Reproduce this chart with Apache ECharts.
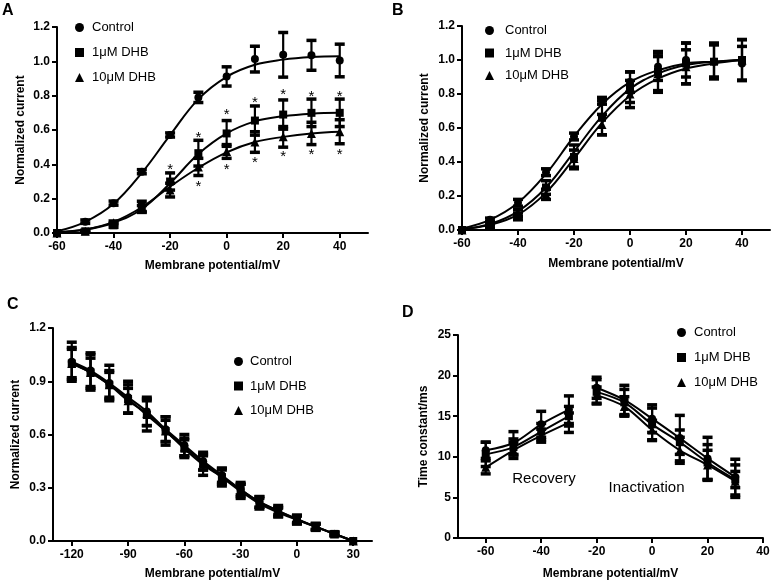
<!DOCTYPE html>
<html><head><meta charset="utf-8">
<script src="https://cdn.jsdelivr.net/npm/echarts@6/dist/echarts.min.js"></script>
<style>html,body{margin:0;padding:0;background:#fff}#c{width:772px;height:585px}</style>
</head><body><div id="c"></div>
<script>
const names = ['Control', '1μM DHB', '10μM DHB'];

// ---------- Panel A ----------
const xA = [-60, -50, -40, -30, -20, -10, 0, 10, 20, 30, 40];
const ctrlA = [0, 0.066, 0.174, 0.357, 0.571, 0.79, 0.912, 1.013, 1.038, 1.035, 1.005];
const ctrlAErr = [0, 0.01, 0.012, 0.012, 0.012, 0.03, 0.056, 0.075, 0.13, 0.087, 0.095];
const dhb1A = [0, 0.01, 0.045, 0.155, 0.30, 0.465, 0.58, 0.655, 0.69, 0.70, 0.70];
const dhb1AErr = [0, 0.005, 0.012, 0.03, 0.05, 0.075, 0.075, 0.085, 0.085, 0.08, 0.08];
const dhb10A = [0, 0.01, 0.06, 0.14, 0.25, 0.385, 0.475, 0.53, 0.56, 0.58, 0.59];
const dhb10AErr = [0, 0.005, 0.01, 0.02, 0.04, 0.05, 0.04, 0.06, 0.06, 0.065, 0.07];
const fitCtrlA = [0.01, 0.065, 0.17, 0.35, 0.57, 0.78, 0.91, 0.98, 1.01, 1.025, 1.03];
const fit1A = [0.005, 0.02, 0.06, 0.14, 0.29, 0.46, 0.58, 0.65, 0.68, 0.695, 0.70];
const fit10A = [0.005, 0.02, 0.065, 0.15, 0.27, 0.38, 0.47, 0.53, 0.56, 0.58, 0.59];
const starAx = [-20, -10, 0, 10, 20, 30, 40, -10, 0, 10, 20, 30, 40];
const starAy = [0.387, 0.571, 0.706, 0.778, 0.822, 0.809, 0.809, 0.286, 0.387, 0.426, 0.46, 0.474, 0.474];

// ---------- Panel B ----------
const xB = [-60, -50, -40, -30, -20, -10, 0, 10, 20, 30, 40];
const ctrlB = [0, 0.06, 0.16, 0.34, 0.55, 0.76, 0.87, 0.96, 1.0, 0.99, 0.98];
const ctrlBErr = [0, 0.01, 0.02, 0.02, 0.02, 0.02, 0.06, 0.08, 0.1, 0.1, 0.1];
const dhb1B = [0, 0.02, 0.08, 0.25, 0.43, 0.66, 0.84, 0.93, 0.98, 0.99, 1.0];
const dhb1BErr = [0, 0.01, 0.02, 0.04, 0.07, 0.1, 0.09, 0.12, 0.12, 0.1, 0.12];
const dhb10B = [0, 0.02, 0.10, 0.21, 0.42, 0.62, 0.80, 0.92, 0.96, 1.0, 1.0];
const dhb10BErr = [0, 0.01, 0.02, 0.03, 0.05, 0.06, 0.08, 0.1, 0.1, 0.1, 0.12];
const fitCtrlB = [0.01, 0.06, 0.16, 0.33, 0.55, 0.74, 0.87, 0.94, 0.98, 0.99, 1.0];
const fit1B = [0.005, 0.035, 0.11, 0.25, 0.46, 0.67, 0.83, 0.92, 0.97, 0.99, 1.0];
const fit10B = [0.005, 0.03, 0.09, 0.22, 0.42, 0.63, 0.79, 0.89, 0.95, 0.98, 1.0];

// ---------- Panel C ----------
const xC = [-120, -110, -100, -90, -80, -70, -60, -50, -40, -30, -20, -10, 0, 10, 20, 30];
const ctrlC = [1.01, 0.96, 0.89, 0.81, 0.73, 0.63, 0.54, 0.45, 0.37, 0.29, 0.22, 0.17, 0.125, 0.08, 0.04, 0.0];
const ctrlCErr = [0.11, 0.1, 0.1, 0.09, 0.08, 0.07, 0.06, 0.05, 0.04, 0.03, 0.03, 0.02, 0.02, 0.015, 0.01, 0];
const dhb1C = [1.0, 0.95, 0.88, 0.80, 0.71, 0.62, 0.52, 0.43, 0.36, 0.29, 0.22, 0.17, 0.12, 0.08, 0.04, 0.0];
const dhb1CErr = [0.09, 0.1, 0.08, 0.08, 0.09, 0.08, 0.05, 0.06, 0.05, 0.04, 0.03, 0.03, 0.025, 0.02, 0.01, 0];
const dhb10C = [1.0, 0.95, 0.88, 0.79, 0.72, 0.62, 0.53, 0.44, 0.36, 0.28, 0.21, 0.16, 0.12, 0.08, 0.04, 0.0];
const dhb10CErr = [0.08, 0.08, 0.07, 0.07, 0.07, 0.06, 0.05, 0.04, 0.04, 0.04, 0.03, 0.025, 0.02, 0.015, 0.01, 0];

// ---------- Panel D ----------
const xDrec = [-60, -50, -40, -30];
const ctrlDrec = [10.8, 11.7, 14.0, 15.8];
const ctrlDrecErr = [1.0, 1.4, 1.6, 1.7];
const dhb1Drec = [10.3, 11.2, 13.1, 15.0];
const dhb1DrecErr = [1.5, 1.0, 1.0, 1.2];
const dhb10Drec = [8.7, 10.8, 12.6, 14.2];
const dhb10DrecErr = [0.8, 1.0, 0.8, 1.2];
const xDin = [-20, -10, 0, 10, 20, 30];
const ctrlDin = [18.5, 17.0, 14.7, 12.3, 9.8, 7.5];
const ctrlDinErr = [1.3, 1.8, 1.7, 2.8, 2.6, 2.2];
const dhb1Din = [18.0, 16.7, 14.0, 11.8, 9.3, 7.2];
const dhb1DinErr = [1.5, 1.6, 2.0, 1.5, 2.2, 1.0];
const dhb10Din = [17.6, 16.2, 13.3, 10.8, 9.0, 7.0];
const dhb10DinErr = [1.0, 1.2, 1.2, 1.6, 1.8, 2.0];
const noteDtext = ['Recovery', 'Inactivation'];
const noteDx = [-39, -2];
const noteDy = [7.3, 6.2];

// tick labels
const ticksA = [-60, -40, -20, 0, 20, 40];
const ticksC = [-120, -90, -60, -30, 0, 30];
const ticksD = [-60, -40, -20, 0, 20, 40];

const FONT = 'Liberation Sans, Arial, sans-serif';
const symbols = ['circle', 'rect', 'triangle'];
const symSizes = [8, 8, 9];

function errRender(params, api) {
  const x = api.value(0), y = api.value(1), e = api.value(2);
  if (!e) return null;
  const t = api.coord([x, y + e]), b = api.coord([x, y - e]);
  const hw = 5;
  const st = {stroke: '#000', lineWidth: 2.2};
  const cs = {stroke: '#000', lineWidth: 3.5};
  return {type: 'group', children: [
    {type: 'line', shape: {x1: t[0], y1: t[1], x2: b[0], y2: b[1]}, style: st},
    {type: 'line', shape: {x1: t[0] - hw, y1: t[1], x2: t[0] + hw, y2: t[1]}, style: cs},
    {type: 'line', shape: {x1: b[0] - hw, y1: b[1], x2: b[0] + hw, y2: b[1]}, style: cs}
  ]};
}
function textRender(fontSize, weight, dy) {
  return function (params, api) {
    const p = api.coord([api.value(0), api.value(1)]);
    return {type: 'text', x: p[0], y: p[1] + dy, style: {
      text: String(api.value(2)), fontSize: fontSize, fontWeight: weight, fontFamily: FONT,
      fill: '#000', align: 'center', verticalAlign: 'middle'}};
  };
}

const series = [];
function addSet(ax, k, xs, ys, errs, fitXs, fitYs, smooth) {
  series.push({type: 'scatter', name: names[k], xAxisIndex: ax, yAxisIndex: ax, z: 5,
    symbol: symbols[k], symbolSize: symSizes[k], itemStyle: {color: '#000', opacity: 1},
    data: xs.map((x, i) => [x, ys[i]])});
  series.push({type: 'custom', name: names[k], xAxisIndex: ax, yAxisIndex: ax, z: 3,
    renderItem: errRender, encode: {x: 0, y: 1}, itemStyle: {color: '#000'},
    data: xs.map((x, i) => [x, ys[i], errs[i]])});
  series.push({type: 'line', name: names[k], xAxisIndex: ax, yAxisIndex: ax, z: 4,
    showSymbol: false, smooth: smooth,
    lineStyle: {color: '#000', width: 2}, itemStyle: {color: '#000'},
    data: fitXs.map((x, i) => [x, fitYs[i]])});
}
// A
addSet(0, 0, xA, ctrlA, ctrlAErr, xA, fitCtrlA, 0.4);
addSet(0, 1, xA, dhb1A, dhb1AErr, xA, fit1A, 0.4);
addSet(0, 2, xA, dhb10A, dhb10AErr, xA, fit10A, 0.4);
series.push({type: 'custom', xAxisIndex: 0, yAxisIndex: 0, z: 6, renderItem: textRender(15, 'normal', 3),
  encode: {x: 0, y: 1}, data: starAx.map((x, i) => [x, starAy[i], '*'])});
// B
addSet(1, 0, xB, ctrlB, ctrlBErr, xB, fitCtrlB, 0.4);
addSet(1, 1, xB, dhb1B, dhb1BErr, xB, fit1B, 0.4);
addSet(1, 2, xB, dhb10B, dhb10BErr, xB, fit10B, 0.4);
// C
addSet(2, 0, xC, ctrlC, ctrlCErr, xC, ctrlC, 0.3);
addSet(2, 1, xC, dhb1C, dhb1CErr, xC, dhb1C, 0.3);
addSet(2, 2, xC, dhb10C, dhb10CErr, xC, dhb10C, 0.3);
// D
addSet(3, 0, xDrec, ctrlDrec, ctrlDrecErr, xDrec, ctrlDrec, 0.3);
addSet(3, 1, xDrec, dhb1Drec, dhb1DrecErr, xDrec, dhb1Drec, 0.3);
addSet(3, 2, xDrec, dhb10Drec, dhb10DrecErr, xDrec, dhb10Drec, 0.3);
addSet(3, 0, xDin, ctrlDin, ctrlDinErr, xDin, ctrlDin, 0.3);
addSet(3, 1, xDin, dhb1Din, dhb1DinErr, xDin, dhb1Din, 0.3);
addSet(3, 2, xDin, dhb10Din, dhb10DinErr, xDin, dhb10Din, 0.3);
series.push({type: 'custom', xAxisIndex: 3, yAxisIndex: 3, z: 6, renderItem: textRender(15, 'normal', 0),
  encode: {x: 0, y: 1}, data: noteDx.map((x, i) => [x, noteDy[i], noteDtext[i]])});

const axLine = {show: true, onZero: false, lineStyle: {color: '#000', width: 2}};
const axTick = {show: true, length: 5, lineStyle: {color: '#000', width: 2}};
const lblStyle = {color: '#000', fontSize: 12, fontWeight: 'bold', fontFamily: FONT};
const nameStyle = {color: '#000', fontSize: 12, fontWeight: 'bold', fontFamily: FONT};

function xAxis(gi, min, max, custom, nameGap) {
  return {type: 'value', gridIndex: gi, min: min, max: max, name: 'Membrane potential/mV',
    nameLocation: 'middle', nameGap: nameGap, nameTextStyle: nameStyle,
    axisLine: axLine, axisTick: Object.assign({customValues: custom}, axTick),
    axisLabel: Object.assign({customValues: custom, margin: 8}, lblStyle), splitLine: {show: false}};
}
function yAxis(gi, min, max, interval, name, dec, nameGap) {
  return {type: 'value', gridIndex: gi, min: min, max: max, interval: interval, name: name,
    nameLocation: 'middle', nameGap: nameGap, nameTextStyle: nameStyle,
    axisLine: axLine, axisTick: axTick,
    axisLabel: Object.assign({margin: 7, formatter: v => v.toFixed(dec)}, lblStyle), splitLine: {show: false}};
}
function legend(left, top, gap, pad) {
  return {orient: 'vertical', left: left, top: top, itemWidth: 9, itemHeight: 9, itemGap: gap,
    padding: 0, selectedMode: false, inactiveColor: '#000',
    itemStyle: {color: '#000'},
    textStyle: {color: '#000', fontSize: 13, fontFamily: FONT, lineHeight: 15, padding: [0, 0, 0, pad]},
    data: names.map((n, k) => ({name: n, icon: symbols[k], itemStyle: {color: '#000'}}))};
}
function title(text, left, top) {
  return {text: text, left: left, top: top, padding: 0,
    textStyle: {color: '#000', fontSize: 16, fontWeight: 'bold', fontFamily: FONT}};
}

const option = {
  animation: false,
  backgroundColor: '#fff',
  color: ['#000'],
  title: [title('A', 2, 3), title('B', 392, 3), title('C', 7, 297), title('D', 402, 305)],
  legend: [legend(75, 20, 10, 3), legend(485, 23, 7.5, 6), legend(234, 354, 9.5, 2), legend(677, 325, 10, 3)],
  grid: [
    {left: 57, top: 27, width: 311, height: 206, outerBoundsMode: 'none'},
    {left: 462, top: 26, width: 308, height: 204, outerBoundsMode: 'none'},
    {left: 53, top: 328, width: 319, height: 213, outerBoundsMode: 'none'},
    {left: 458, top: 335, width: 305, height: 203, outerBoundsMode: 'none'}
  ],
  xAxis: [
    xAxis(0, -60, 50, ticksA, 27),
    xAxis(1, -60, 50, ticksA, 28),
    xAxis(2, -130, 40, ticksC, 27),
    xAxis(3, -70, 40, ticksD, 30)
  ],
  yAxis: [
    yAxis(0, 0, 1.2, 0.2, 'Normalized current', 1, 30),
    yAxis(1, 0, 1.2, 0.2, 'Normalized current', 1, 31),
    yAxis(2, 0, 1.2, 0.3, 'Normalized current', 1, 31),
    yAxis(3, 0, 25, 5, 'Time constant/ms', 0, 28)
  ],
  series: series
};
const chart = echarts.init(document.getElementById('c'), null, {renderer: 'canvas'});
chart.setOption(option);
</script>
</body></html>
